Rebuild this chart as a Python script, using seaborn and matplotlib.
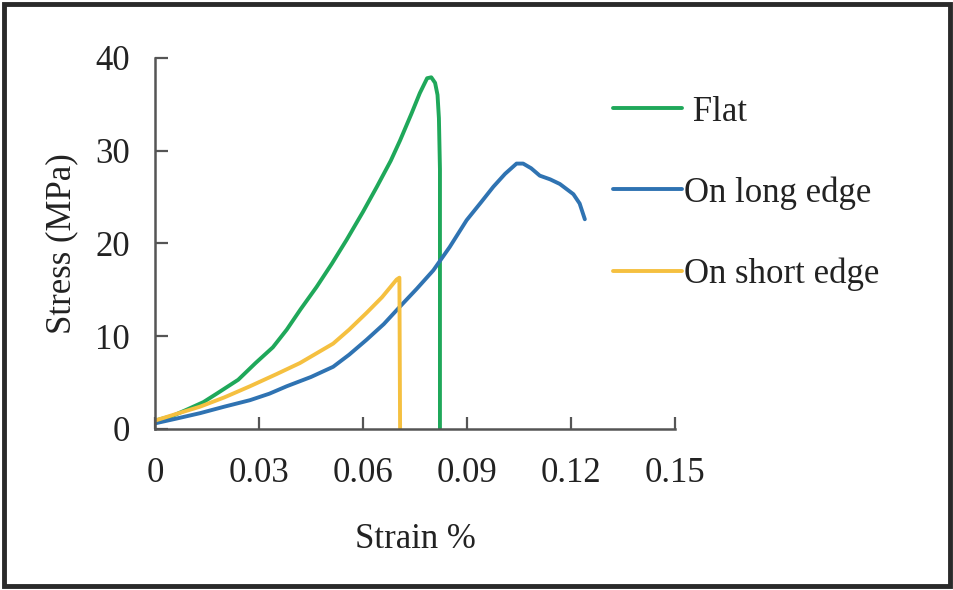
import numpy as np
import pandas as pd
import matplotlib
matplotlib.use("Agg")
import matplotlib.pyplot as plt
import seaborn as sns
from matplotlib.patches import Rectangle

# values
flat_strain = [0.0, 0.005, 0.009, 0.014, 0.018, 0.024, 0.029, 0.034, 0.038, 0.042, 0.0466, 0.051, 0.0553,
               0.060, 0.064, 0.068, 0.0707, 0.074, 0.0764, 0.0785, 0.0797, 0.0808, 0.0815, 0.0819, 0.0822, 0.0822]
flat_stress = [0.9, 1.4, 2.05, 2.9, 3.85, 5.3, 7.1, 8.8, 10.7, 12.9, 15.3, 17.8, 20.4,
               23.4, 26.1, 28.9, 31.1, 34.0, 36.2, 37.8, 37.9, 37.3, 36.0, 33.5, 28.0, 0.0]

long_strain = [0.0, 0.006, 0.013, 0.020, 0.0274, 0.033, 0.038, 0.045, 0.0514, 0.056, 0.061, 0.066, 0.0707,
               0.0755, 0.0803, 0.085, 0.0899, 0.094, 0.0976, 0.101, 0.1043, 0.1062, 0.1085, 0.111, 0.114,
               0.1168, 0.1207, 0.1225, 0.124]
long_stress = [0.6, 1.1, 1.7, 2.4, 3.1, 3.8, 4.6, 5.6, 6.7, 8.0, 9.6, 11.3, 13.2,
               15.1, 17.1, 19.6, 22.5, 24.4, 26.1, 27.5, 28.6, 28.6, 28.1, 27.3, 26.9,
               26.4, 25.3, 24.3, 22.6]

short_strain = [0.0, 0.006, 0.013, 0.020, 0.0274, 0.035, 0.0418, 0.0514, 0.056, 0.061, 0.0655, 0.0697, 0.0705, 0.0707]
short_stress = [0.9, 1.6, 2.4, 3.4, 4.6, 5.9, 7.1, 9.2, 10.7, 12.5, 14.2, 16.1, 16.3, 0.0]

labels = ["Flat", "On long edge", "On short edge"]
colors = ["#1fa85a", "#2f73b2", "#f5c040"]

rows = []
for lab, xs, ys in zip(labels, [flat_strain, long_strain, short_strain], [flat_stress, long_stress, short_stress]):
    for i, (a, b) in enumerate(zip(xs, ys)):
        rows.append({"series": lab, "order": i, "Strain": a, "Stress": b})
df = pd.DataFrame(rows)

sns.set_theme(style="white")
plt.rcParams['font.family'] = ['Liberation Serif', 'DejaVu Serif']

fig = plt.figure(figsize=(9.54, 5.9), dpi=100)
ax = fig.add_axes([0.1625, 0.273, 0.545, 0.629])

sns.lineplot(data=df, x="Strain", y="Stress", hue="series", units="series", estimator=None,
             sort=False, palette=dict(zip(labels, colors)), linewidth=2.8, ax=ax)

ax.set_xlim(0, 0.15)
ax.set_ylim(0, 40)
ax.set_xticks([0, 0.03, 0.06, 0.09, 0.12, 0.15])
ax.set_xticklabels(["0", "0.03", "0.06", "0.09", "0.12", "0.15"])
ax.set_yticks([0, 10, 20, 30, 40])
ax.tick_params(axis="both", direction="in", length=9, width=1.6, colors="#555555",
               labelcolor="#222222", labelsize=25, bottom=True, left=True)
ax.tick_params(axis="x", pad=20)
ax.tick_params(axis="y", pad=18)
for s in ["top", "right"]:
    ax.spines[s].set_visible(False)
for s in ["left", "bottom"]:
    ax.spines[s].set_color("#555555")
    ax.spines[s].set_linewidth(1.8)

ax.set_xlabel("Strain %", fontsize=25, color="#222222", labelpad=24)
ax.set_ylabel("Stress (MPa)", fontsize=25, color="#222222", labelpad=12)

handles, _ = ax.get_legend_handles_labels()
leg = ax.legend(handles, [" Flat", "On long edge", "On short edge"], loc="upper left",
                bbox_to_anchor=(0.6426, 0.838), bbox_transform=fig.transFigure, frameon=False,
                fontsize=25, handlelength=2.0, handletextpad=0.05, labelspacing=1.37,
                borderaxespad=0, borderpad=0)
for t in leg.get_texts():
    t.set_color("#222222")

fig.patches.append(Rectangle((0.004, 0.006), 0.992, 0.988, transform=fig.transFigure,
                             fill=False, edgecolor="#2a2a2a", linewidth=3.5))

fig.savefig("out.png", dpi=100, facecolor="white")
